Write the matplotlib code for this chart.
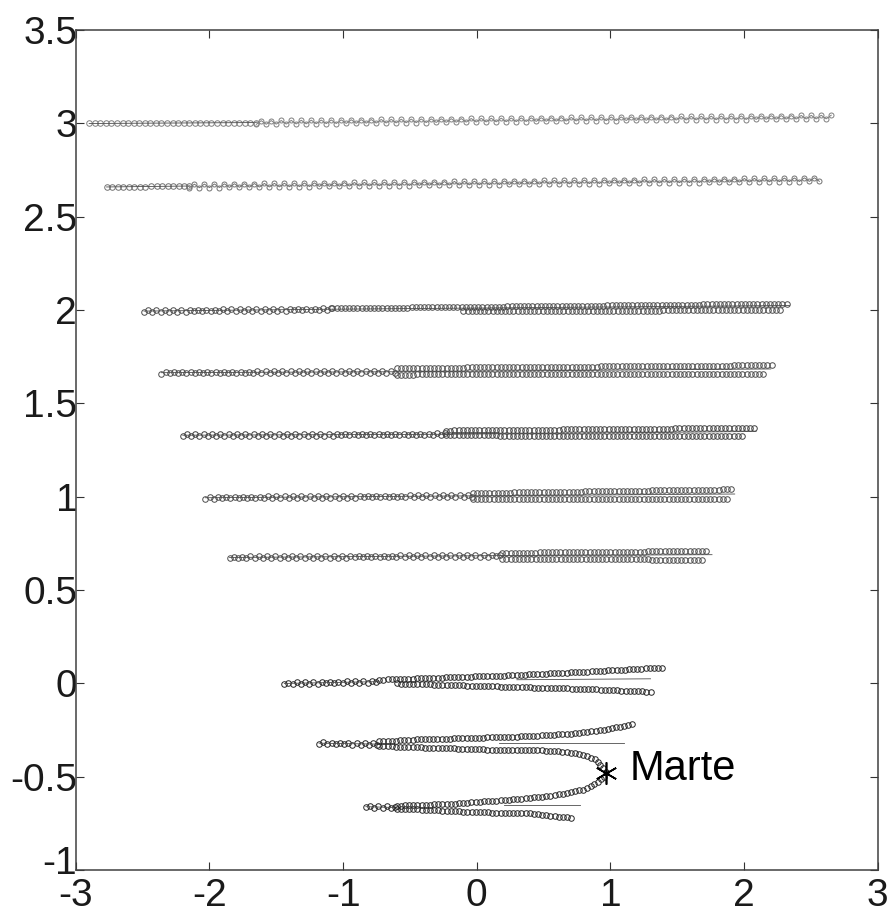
import numpy as np
import matplotlib
matplotlib.use('Agg')
import matplotlib.pyplot as plt
from matplotlib.patheffects import AbstractPathEffect, Normal
from matplotlib.path import Path
from matplotlib.transforms import Affine2D, IdentityTransform, ScaledTranslation

plt.rcParams['font.family'] = ['Liberation Sans', 'DejaVu Sans']

# ---- tracks (x, y in plot units) ----
# trunk = single file part on the left of each track
trunk_x = [[-2.90, -1.65], [-2.77, -2.15], [-2.49, -1.08], [-2.36, -0.60], [-2.20, -0.23],
           [-2.03, -0.03], [-1.85, 0.19], [-1.44, -0.73], [-1.18, -0.73], [-0.83, -0.60]]
trunk_y = [[3.000, 3.005], [2.660, 2.665], [1.995, 2.005], [1.665, 1.670], [1.330, 1.335],
           [0.995, 1.005], [0.675, 0.685], [0.000, 0.010], [-0.320, -0.325], [-0.660, -0.665]]

# zigzag part of the two top tracks
wavy_x = [[-1.65, 1.00, 2.68], [-2.15, 0.50, 2.58]]
wavy_y = [[3.005, 3.025, 3.035], [2.665, 2.685, 2.700]]

# upper / lower branches (tracks 3..10)
upper_x = [[-1.08, 2.32], [-0.60, 2.21], [-0.23, 2.09], [-0.03, 1.91], [0.19, 1.74],
           [-0.73, 0.30, 0.86, 1.39],
           [-0.73, -0.45, 0.30, 0.69, 0.94, 1.19],
           [-0.60, -0.20, 0.30, 0.57, 0.79, 0.88, 0.97]]
upper_y = [[2.010, 2.035], [1.690, 1.705], [1.355, 1.370], [1.020, 1.040], [0.700, 0.710],
           [0.020, 0.045, 0.065, 0.085],
           [-0.310, -0.300, -0.285, -0.270, -0.250, -0.215],
           [-0.655, -0.645, -0.620, -0.600, -0.570, -0.540, -0.490]]
lower_x = [[-0.10, 2.27], [-0.60, 2.17], [-0.23, 0.99, 2.00], [-0.03, 1.87], [0.19, 1.20, 1.69],
           [-0.60, 0.34, 0.84, 1.31],
           [-0.73, 0.12, 0.59, 0.79, 0.89, 0.97],
           [-0.60, 0.00, 0.39, 0.62, 0.72]]
lower_y = [[1.995, 2.000], [1.655, 1.660], [1.330, 1.325, 1.325], [0.990, 0.990], [0.665, 0.665, 0.660],
           [0.000, -0.020, -0.030, -0.045],
           [-0.335, -0.355, -0.360, -0.380, -0.410, -0.475],
           [-0.670, -0.690, -0.695, -0.715, -0.720]]

# bare thin lines running between the branches
thin_x = [[-1.08, 2.34], [-0.60, 2.20], [-0.23, 2.09], [-0.03, 1.93], [0.19, 1.76],
          [0.30, 1.30], [0.17, 1.10], [0.20, 0.77]]
thin_y = [[2.005, 2.025], [1.670, 1.685], [1.335, 1.350], [1.005, 1.015], [0.685, 0.690],
          [0.020, 0.025], [-0.320, -0.320], [-0.650, -0.650]]

marte_x, marte_y = 0.97, -0.48


class CircleTrail(AbstractPathEffect):
    """drop open circles along the line every `step` points (optionally zigzagging)"""

    def __init__(self, step=3.5, size=4.0, wave=0.0, color='0.35', lw=0.7, zigline=True):
        super().__init__()
        self.step, self.size, self.wave = step, size, wave
        self.color, self.lw, self.zigline = color, lw, zigline

    def draw_path(self, renderer, gc, tpath, affine, rgbFace=None):
        v = affine.transform(tpath.vertices)
        d = np.r_[0, np.cumsum(np.hypot(*np.diff(v, axis=0).T))]
        s = np.arange(0, d[-1] + 0.5, renderer.points_to_pixels(self.step))
        pts = np.c_[np.interp(s, d, v[:, 0]), np.interp(s, d, v[:, 1])]
        gc0 = renderer.new_gc()
        gc0.copy_properties(gc)
        gc0.set_foreground(self.color)
        gc0.set_linewidth(self.lw)
        if self.wave:
            amp = renderer.points_to_pixels(self.wave)
            pts[:, 1] += amp * np.where(np.arange(len(s)) % 2, 1, -1)
            if self.zigline:
                renderer.draw_path(gc0, Path(pts), IdentityTransform())
        r = renderer.points_to_pixels(self.size) / 2
        renderer.draw_markers(gc0, Path.unit_circle(), Affine2D().scale(r),
                              Path(pts), IdentityTransform(), None)
        gc0.restore()


fig = plt.figure(figsize=(8.92, 9.14), dpi=100)
ax = fig.add_axes([0.085, 0.048, 0.899, 0.919])

shade = ['0.5', '0.45', '0.3', '0.3', '0.25', '0.3', '0.3', '0.15', '0.15', '0.15']

for i in range(len(trunk_x)):
    if i < 2:
        fx = [CircleTrail(step=4.0, color=shade[i]), Normal()]
    else:
        fx = [CircleTrail(step=3.0, wave=0.6, zigline=False, color=shade[i]), Normal()]
    ax.plot(trunk_x[i], trunk_y[i], color='0.3', lw=0.6, path_effects=fx)

for i in range(len(wavy_x)):
    ax.plot(wavy_x[i], wavy_y[i], color='0.4', lw=0.6,
            path_effects=[CircleTrail(step=3.6, size=3.6, wave=1.3, color=shade[i])])

for i in range(len(upper_x)):
    ax.plot(upper_x[i], upper_y[i], color='0.3', lw=0.6,
            path_effects=[CircleTrail(step=3.0, color=shade[i + 2])])
    ax.plot(lower_x[i], lower_y[i], color='0.3', lw=0.6,
            path_effects=[CircleTrail(step=3.0, color=shade[i + 2])])
    ax.plot(thin_x[i], thin_y[i], color='0.3', lw=0.6)

ax.plot(marte_x, marte_y, marker=(6, 2, 0), ms=16, mew=1.2, color='black')
ax.text(marte_x + 0.17, marte_y + 0.02, 'Marte', fontsize=30, va='center', ha='left')

ax.set_xlim(-3, 3)
ax.set_ylim(-1, 3.5)
ax.set_xticks([-3, -2, -1, 0, 1, 2, 3])
ax.set_xticklabels(['-3', '-2', '-1', '0', '1', '2', '3'])
ax.set_yticks([-1, -0.5, 0, 0.5, 1, 1.5, 2, 2.5, 3, 3.5])
ax.set_yticklabels(['-1', '-0.5', '0', '0.5', '1', '1.5', '2', '2.5', '3', '3.5'])
ax.tick_params(direction='in', top=True, right=True, length=6, width=0.8,
               labelsize=28, colors='0.2', labelcolor='#1a1a1a')
ax.tick_params(axis='y', pad=-1)
ax.tick_params(axis='x', pad=6)
for sp in ax.spines.values():
    sp.set_linewidth(1.1)
    sp.set_color('0.25')

# the bottom y label sits a bit higher in the scan, just clear of the -3
lab = ax.get_yticklabels()[0]
lab.set_transform(lab.get_transform() + ScaledTranslation(0, 7 / 72, fig.dpi_scale_trans))

fig.savefig('out.png', dpi=100)
